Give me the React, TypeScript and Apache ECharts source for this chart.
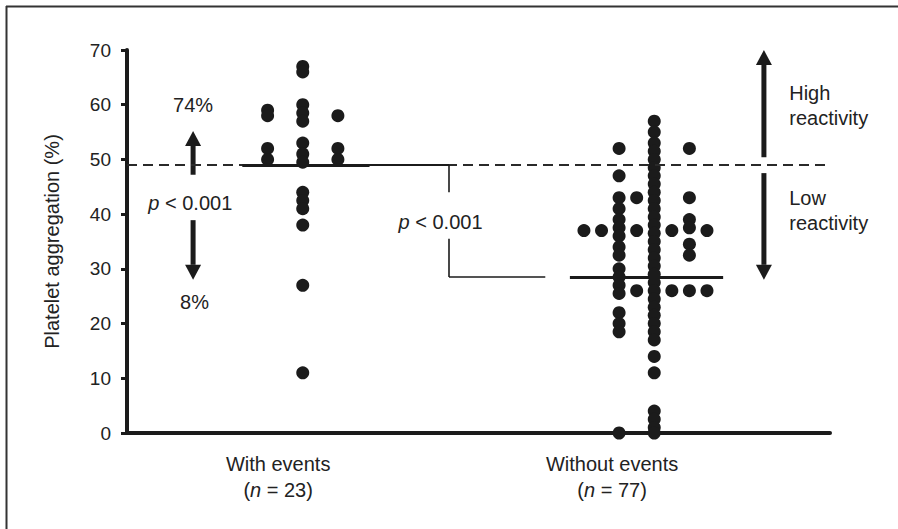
import React, { useEffect, useRef } from "react";
import * as echarts from "echarts";

// ---------- data ----------
const categories = ["With events", "Without events"];
const groupN = [23, 77];

// dot-plot columns: column index (relative to group centre) and the values stacked in it
const withEventsCenter = [67, 66, 60, 58.5, 57, 53, 51, 49.5, 44, 42.5, 41, 38, 27, 11];
const withEventsLeft = [59, 58, 52, 50];
const withEventsRight = [58, 52, 50];

const withoutEventsCenter = [
  57, 55, 53, 51.5, 50, 48.5, 47, 45.5, 44, 42.5, 41, 39.5, 38, 36.5, 35, 33.5, 32, 30.5,
  29, 27.5, 26, 24.5, 23, 21.5, 20, 18.5, 17, 14, 11, 4, 2.5, 1, 0,
];
const withoutEventsL1 = [43, 37, 26];
const withoutEventsL2 = [52, 47, 43, 41, 39, 37.5, 36, 34, 32.5, 30, 28.5, 27, 25.5, 22, 20, 18.5, 0];
const withoutEventsL3 = [37];
const withoutEventsL4 = [37];
const withoutEventsR1 = [37, 26];
const withoutEventsR2 = [52, 43, 39, 37.5, 34.5, 32.5, 26];
const withoutEventsR3 = [37, 26];

const medians = [49, 28.5];
const reactivityCutoff = 49;
const highShare = "74%";
const lowShare = "8%";
const pValueText = "< 0.001";

const withColumns = [
  { col: -1, values: withEventsLeft },
  { col: 0, values: withEventsCenter },
  { col: 1, values: withEventsRight },
];
const withoutColumns = [
  { col: -4, values: withoutEventsL4 },
  { col: -3, values: withoutEventsL3 },
  { col: -2, values: withoutEventsL2 },
  { col: -1, values: withoutEventsL1 },
  { col: 0, values: withoutEventsCenter },
  { col: 1, values: withoutEventsR1 },
  { col: 2, values: withoutEventsR2 },
  { col: 3, values: withoutEventsR3 },
];

// ---------- layout (x in axis units 0..100) ----------
const GROUP_X = [25, 75];
const COL_STEP = [5, 2.5];
const LABEL_X = [21.5, 69.0];
const MEDIAN_SPAN = [
  [16.4, 34.5],
  [63.0, 84.8],
];
const BRACKET_X = 45.8;
const BRACKET_END = 59.5;

const FONT = '"Liberation Sans", Arial, Helvetica, sans-serif';
const INK = "#1b1b1b";
const TXT = "#222";

function buildDots(cols: { col: number; values: number[] }[], g: number) {
  const out: number[][] = [];
  cols.forEach((c) => c.values.forEach((v) => out.push([GROUP_X[g] + c.col * COL_STEP[g], v])));
  return out;
}

export default function App() {
  const ref = useRef<HTMLDivElement>(null);

  useEffect(() => {
    document.body.style.margin = "0";
    if (!ref.current) return;
    const chart = echarts.init(ref.current, undefined, { renderer: "svg" });

    const seg = (a: number[], b: number[], width: number, type: any = "solid") => [
      { coord: a, lineStyle: { width, type, color: INK } },
      { coord: b },
    ];

    chart.setOption({
      animation: false,
      grid: { left: 127, right: 68, top: 50, bottom: 96 },
      xAxis: {
        type: "value",
        min: 0,
        max: 100,
        axisLine: { show: true, lineStyle: { color: INK, width: 4 } },
        axisTick: { show: false },
        splitLine: { show: false },
        axisLabel: {
          customValues: LABEL_X,
          margin: 18,
          color: TXT,
          fontFamily: FONT,
          fontSize: 20,
          lineHeight: 26,
          formatter: (v: number) => {
            const i = LABEL_X.findIndex((x) => Math.abs(x - v) < 0.01);
            if (i < 0) return "";
            return `${categories[i]}\n({i|n} = ${groupN[i]})`;
          },
          rich: {
            i: { fontStyle: "italic", fontSize: 20, fontFamily: FONT, color: TXT, lineHeight: 26 },
          },
        },
      },
      yAxis: {
        type: "value",
        min: 0,
        max: 70,
        interval: 10,
        name: "Platelet aggregation (%)",
        nameLocation: "middle",
        nameGap: 65,
        nameTextStyle: { fontSize: 20, fontFamily: FONT, color: TXT },
        axisLine: { show: true, lineStyle: { color: INK, width: 4 } },
        axisTick: { show: true, inside: false, length: 6, lineStyle: { color: INK, width: 3 } },
        axisLabel: { fontSize: 19, fontFamily: FONT, color: TXT, margin: 16 },
        splitLine: { show: false },
      },
      series: [
        {
          type: "scatter",
          symbolSize: 13,
          itemStyle: { color: INK, opacity: 1 },
          data: buildDots(withColumns, 0),
          z: 3,
          markLine: {
            silent: true,
            symbol: ["none", "none"],
            label: { show: false },
            emphasis: { disabled: true },
            data: [
              [
                { coord: [0, reactivityCutoff], lineStyle: { width: 2, type: [10, 6], color: "#2a2a2a" } },
                { coord: [100, reactivityCutoff] },
              ],
              seg([MEDIAN_SPAN[0][0], medians[0]], [MEDIAN_SPAN[0][1], medians[0]], 3),
              seg([MEDIAN_SPAN[0][1], medians[0]], [BRACKET_X, medians[0]], 2),
              seg([BRACKET_X, medians[0]], [BRACKET_X, 44], 1.6),
              seg([BRACKET_X, 35.5], [BRACKET_X, medians[1]], 1.6),
              seg([BRACKET_X, medians[1]], [BRACKET_END, medians[1]], 1.6),
              seg([MEDIAN_SPAN[1][0], medians[1]], [MEDIAN_SPAN[1][1], medians[1]], 3),
            ],
          },
        },
        {
          type: "scatter",
          symbolSize: 13,
          itemStyle: { color: INK, opacity: 1 },
          data: buildDots(withoutColumns, 1),
          z: 3,
        },
      ],
    });

    const P = (x: number, y: number) => chart.convertToPixel({ gridIndex: 0 }, [x, y]) as number[];

    const arrow = (x: number, yFrom: number, yTip: number) => {
      const a = P(x, yFrom);
      const t = P(x, yTip);
      const dir = t[1] < a[1] ? -1 : 1; // -1 = up
      const headH = 15;
      const headW = 8;
      const baseY = t[1] - dir * headH;
      return [
        {
          type: "line",
          shape: { x1: a[0], y1: a[1], x2: t[0], y2: baseY },
          style: { stroke: INK, lineWidth: 5 },
          silent: true,
        },
        {
          type: "polygon",
          shape: {
            points: [
              [t[0], t[1]],
              [t[0] - headW, baseY],
              [t[0] + headW, baseY],
            ],
          },
          style: { fill: INK },
          silent: true,
        },
      ];
    };

    const text = (x: number, y: number, str: string, align = "center", rich?: any) => {
      const p = P(x, y);
      return {
        type: "text",
        x: p[0],
        y: p[1],
        silent: true,
        style: {
          text: str,
          fill: TXT,
          fontSize: 20,
          fontFamily: FONT,
          align,
          verticalAlign: "middle",
          rich,
        },
      };
    };
    const pRich = { i: { fontStyle: "italic", fontSize: 20, fontFamily: FONT, fill: TXT } };

    chart.setOption({
      graphic: [
        { type: "line", shape: { x1: 6, y1: 6.5, x2: 898, y2: 6.5 }, style: { stroke: "#333", lineWidth: 2 }, silent: true },
        { type: "line", shape: { x1: 6.5, y1: 6, x2: 6.5, y2: 529 }, style: { stroke: "#333", lineWidth: 2 }, silent: true },
        ...arrow(9.4, 47.2, 55.2),
        ...arrow(9.4, 38.9, 28.0),
        ...arrow(90.6, 50.4, 70),
        ...arrow(90.6, 47.5, 28.0),
        text(9.4, 60, highShare),
        text(9.6, 23.9, lowShare),
        text(9.0, 42.0, `{i|p} ${pValueText}`, "center", pRich),
        text(44.6, 38.6, `{i|p} ${pValueText}`, "center", pRich),
        text(94.2, 62.1, "High", "left"),
        text(94.2, 57.6, "reactivity", "left"),
        text(94.2, 43.0, "Low", "left"),
        text(94.2, 38.4, "reactivity", "left"),
      ],
    });

    return () => chart.dispose();
  }, []);

  return <div ref={ref} style={{ width: 898, height: 529, background: "#fff" }} />;
}
